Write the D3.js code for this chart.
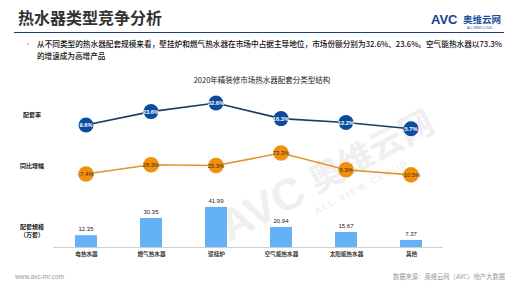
<!DOCTYPE html>
<html><head><meta charset="utf-8">
<script src="https://cdn.jsdelivr.net/npm/d3@7"></script>
<style>body{margin:0;background:#fff}svg{display:block;font-family:"Noto Sans CJK SC","Noto Sans",sans-serif}</style>
</head><body>
<script>
const categories = ["电热水器","燃气热水器","壁挂炉","空气能热水器","太阳能热水器","其他"];
const shareValues = [9.6, 23.6, 32.6, 16.3, 12.2, 5.7];
const growthValues = [-7.4, 28.3, 25.3, 73.3, 9.3, -10.5];
const scaleValues = [12.35, 30.35, 41.99, 20.94, 15.67, 7.37];
const rowLabels = ["配套率","同比增幅","配套规模","（万套）"];

const W=520,H=292;
const svg=d3.select("body").append("svg").attr("width",W).attr("height",H);

// watermark
const wm=svg.append("g").attr("transform","translate(300,205) rotate(-28)").attr("fill","#efefef");
wm.append("text").attr("x",-80).attr("y",0).attr("font-size",44).attr("font-weight","bold").attr("font-family","Liberation Sans,Arial").text("AVC");
wm.append("text").attr("x",20).attr("y",-2).attr("font-size",34).attr("font-weight","bold").text("奥维云网");
wm.append("text").attr("x",10).attr("y",16).attr("font-size",9).attr("font-weight","bold").attr("letter-spacing",2).attr("font-family","Liberation Sans,Arial").text("ALL VIEW CLOUD");

// header
svg.append("text").attr("x",18).attr("y",24).attr("font-size",16).attr("font-weight","bold").attr("fill","#333").text("热水器类型竞争分析");
svg.append("line").attr("x1",14).attr("x2",504).attr("y1",32.5).attr("y2",32.5).attr("stroke","#1c3f78").attr("stroke-width",1.2);
svg.append("text").attr("x",431).attr("y",24).attr("font-size",13).attr("font-weight","bold").attr("fill","#1d3f8f").attr("font-family","Liberation Sans,Arial").text("AVC");
svg.append("text").attr("x",463).attr("y",23).attr("font-size",9.5).attr("font-weight","bold").attr("fill","#1d4fa0").text("奥维云网");
svg.append("text").attr("x",467).attr("y",29).attr("font-size",3).attr("fill","#1d4fa0").attr("font-family","Liberation Sans,Arial").text("ALL VIEW CLOUD");

// bullet text
svg.append("text").attr("x",24).attr("y",47).attr("font-size",8).attr("fill","#e8952a").text("•");
svg.append("text").attr("x",37).attr("y",47).attr("font-size",7.6).attr("font-weight","500").attr("fill","#111").attr("textLength",465).attr("lengthAdjust","spacingAndGlyphs").text("从不同类型的热水器配套规模来看，壁挂炉和燃气热水器在市场中占据主导地位，市场份额分别为32.6%、23.6%。空气能热水器以73.3%");
svg.append("text").attr("x",37).attr("y",59).attr("font-size",7.6).attr("font-weight","500").attr("fill","#111").text("的增速成为高增产品");

// chart title
svg.append("text").attr("x",262).attr("y",83).attr("text-anchor","middle").attr("font-size",7.5).attr("fill","#222").text("2020年精装修市场热水器配套分类型结构");

// row labels
const rl=svg.append("g").attr("font-size",6).attr("font-weight","bold").attr("fill","#222").attr("text-anchor","middle");
rl.append("text").attr("x",32).attr("y",117).text(rowLabels[0]);
rl.append("text").attr("x",32).attr("y",168).text(rowLabels[1]);
rl.append("text").attr("x",32).attr("y",229).text(rowLabels[2]);
rl.append("text").attr("x",32).attr("y",237).text(rowLabels[3]);

const x=d3.scalePoint().domain(categories).range([86,411]);
const data=categories.map((c,i)=>({c,s:shareValues[i],g:growthValues[i],v:scaleValues[i]}));

// share line
const yS=d3.scaleLinear().domain([0,35]).range([134.2,100.7]);
svg.append("path").datum(data).attr("fill","none").attr("stroke","#1b3a66").attr("stroke-width",1.6)
  .attr("d",d3.line().x(d=>x(d.c)).y(d=>yS(d.s)));
const sg=svg.selectAll(".sp").data(data).enter().append("g").attr("transform",d=>`translate(${x(d.c)},${yS(d.s)})`);
sg.append("circle").attr("r",7.5).attr("fill","#0c4c9e");
sg.append("text").attr("text-anchor","middle").attr("dy",2).attr("font-size",5.8).attr("font-weight","bold").attr("fill","#fff").attr("font-family","Liberation Sans,Arial").text(d=>d.s.toFixed(1)+"%");

// growth line
const yG=d3.scaleLinear().domain([-20,80]).range([177.3,151.3]);
svg.append("path").datum(data).attr("fill","none").attr("stroke","#e0962e").attr("stroke-width",1.6)
  .attr("d",d3.line().x(d=>x(d.c)).y(d=>yG(d.g)));
const gg=svg.selectAll(".gp").data(data).enter().append("g").attr("transform",d=>`translate(${x(d.c)},${yG(d.g)})`);
gg.append("circle").attr("r",7.8).attr("fill","#f1900e");
gg.append("text").attr("text-anchor","middle").attr("dy",2).attr("font-size",5.8).attr("fill","#3a2a10").attr("font-family","Liberation Sans,Arial").text(d=>d.g.toFixed(1)+"%");

// bars
const yB=d3.scaleLinear().domain([0,45]).range([247,204]);
const bw=22;
svg.selectAll(".bar").data(data).enter().append("rect").attr("x",d=>x(d.c)-bw/2).attr("y",d=>yB(d.v)).attr("width",bw).attr("height",d=>yB(0)-yB(d.v)).attr("fill","#64b2f6");
svg.selectAll(".bl").data(data).enter().append("text").attr("x",d=>x(d.c)).attr("y",d=>yB(d.v)-4).attr("text-anchor","middle").attr("font-size",6).attr("fill","#222").attr("font-family","Liberation Sans,Arial").text(d=>d.v.toFixed(2));
const ax=svg.append("g").attr("transform","translate(0,247.5)").call(d3.axisBottom(x).tickSize(0).tickPadding(5));
ax.select(".domain").attr("stroke","#cfcfcf").attr("d","M53,0H443");
ax.selectAll("text").attr("font-size",5.6).attr("font-weight","bold").attr("fill","#333").attr("font-family","Noto Sans CJK SC");

// footer
svg.append("text").attr("x",15).attr("y",279).attr("font-size",6.5).attr("fill","#999").attr("font-family","Liberation Sans,Arial").text("www.avc-mr.com");
svg.append("text").attr("x",505).attr("y",279).attr("text-anchor","end").attr("font-size",6.3).attr("fill","#999").text("数据来源：奥维云网（AVC）地产大数据");
</script>
</body></html>
